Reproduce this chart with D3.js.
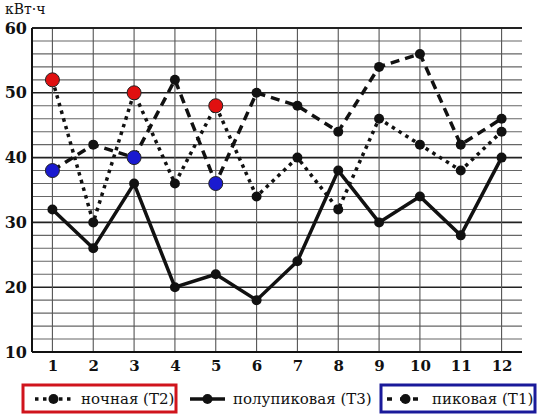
<!DOCTYPE html>
<html>
<head>
<meta charset="utf-8">
<script src="https://cdn.jsdelivr.net/npm/d3@7"></script>
<style>
  body { margin: 0; background: #fff; }
  text { font-family: "DejaVu Serif", "Liberation Serif", serif; fill: #111; }
</style>
</head>
<body>
<div id="chart"></div>
<script>
// Months and consumption per tariff zone (kWh)
var months = [1, 2, 3, 4, 5, 6, 7, 8, 9, 10, 11, 12];
var night = [52, 30, 50, 36, 48, 34, 40, 32, 46, 42, 38, 44];     // ночная (Т2)
var halfPeak = [32, 26, 36, 20, 22, 18, 24, 38, 30, 34, 28, 40];  // полупиковая (Т3)
var peak = [38, 42, 40, 52, 36, 50, 48, 44, 54, 56, 42, 46];      // пиковая (Т1)
var yTicks = [10, 20, 30, 40, 50, 60];
var highlighted = [1, 3, 5];

var w = 539, h = 417;
var plotLeft = 32, plotRight = 522, plotTop = 28, plotBottom = 352;

var svg = d3.select("#chart").append("svg")
  .attr("width", w).attr("height", h);

var x = d3.scalePoint().domain(months).range([plotLeft, plotRight]).padding(0.5);
var y = d3.scaleLinear().domain([10, 60]).range([plotBottom, plotTop]);

// horizontal grid, every 2 kWh
var grid = svg.append("g");
grid.selectAll(".hgrid")
  .data(d3.range(10, 61, 2))
  .enter().append("line")
  .attr("x1", plotLeft).attr("x2", plotRight)
  .attr("y1", function(d) { return y(d); })
  .attr("y2", function(d) { return y(d); })
  .attr("stroke", function(d) { return d % 10 == 0 ? "#222" : "#666"; })
  .attr("stroke-width", function(d) { return d % 10 == 0 ? 1.6 : 1.1; });

// vertical grid at each month
grid.selectAll(".vgrid")
  .data(months)
  .enter().append("line")
  .attr("x1", function(d) { return x(d); })
  .attr("x2", function(d) { return x(d); })
  .attr("y1", plotTop).attr("y2", plotBottom)
  .attr("stroke", "#555").attr("stroke-width", 1.1);

// axes lines
svg.append("line").attr("x1", plotLeft).attr("x2", plotLeft).attr("y1", plotTop).attr("y2", plotBottom)
  .attr("stroke", "#111").attr("stroke-width", 2);
svg.append("line").attr("x1", plotLeft).attr("x2", plotRight).attr("y1", plotBottom).attr("y2", plotBottom)
  .attr("stroke", "#111").attr("stroke-width", 2);
svg.append("line").attr("x1", plotLeft).attr("x2", plotRight).attr("y1", plotTop).attr("y2", plotTop)
  .attr("stroke", "#111").attr("stroke-width", 1.6);

// y axis labels
var yAxis = d3.axisLeft(y).tickValues(yTicks).tickSize(0).tickPadding(5);
svg.append("g").attr("transform", "translate(" + plotLeft + ",0)")
  .call(yAxis)
  .call(function(g) { g.select(".domain").remove(); })
  .selectAll("text")
  .style("font-size", "16px").style("font-weight", "bold")
  .style("font-family", "DejaVu Serif").attr("fill", "#111");

// x axis labels
var xAxis = d3.axisBottom(x).tickSize(0).tickPadding(8);
svg.append("g").attr("transform", "translate(0," + plotBottom + ")")
  .call(xAxis)
  .call(function(g) { g.select(".domain").remove(); })
  .selectAll("text")
  .style("font-size", "15px").style("font-weight", "bold")
  .style("font-family", "DejaVu Serif").attr("fill", "#111");

svg.append("text").text("кВт·ч")
  .attr("x", 5).attr("y", 14)
  .style("font-size", "14px");

var line = d3.line()
  .x(function(d, i) { return x(months[i]); })
  .y(function(d) { return y(d); });

var series = [
  { values: halfPeak, dash: null, mark: function() { return "#111"; } },
  { values: peak, dash: "9,6", mark: function(m) { return highlighted.indexOf(m) >= 0 ? "#1a1ad0" : "#111"; } },
  { values: night, dash: "3.5,4.5", mark: function(m) { return highlighted.indexOf(m) >= 0 ? "#e01010" : "#111"; } }
];

series.forEach(function(s) {
  svg.append("path")
    .datum(s.values)
    .attr("d", line)
    .attr("fill", "none")
    .attr("stroke", "#111")
    .attr("stroke-width", 3.5)
    .attr("stroke-dasharray", s.dash);
});

series.forEach(function(s) {
  svg.append("g").selectAll("circle")
    .data(s.values)
    .enter().append("circle")
    .attr("cx", function(d, i) { return x(months[i]); })
    .attr("cy", function(d) { return y(d); })
    .attr("r", function(d, i) { return s.mark(months[i]) == "#111" ? 5 : 7; })
    .attr("fill", function(d, i) { return s.mark(months[i]); })
    .attr("stroke", "#222")
    .attr("stroke-width", function(d, i) { return s.mark(months[i]) == "#111" ? 0 : 1; });
});

// legend
var legend = svg.append("g");
var legendItems = [
  { label: "ночная (Т2)", dash: "3.5,4.5", x1: 35, x2: 72, tx: 81, box: [23, 176, "#d0141c"] },
  { label: "полупиковая (Т3)", dash: null, x1: 190, x2: 225, tx: 233, box: null },
  { label: "пиковая (Т1)", dash: "5,8", x1: 387, x2: 424, tx: 432, box: [381, 535, "#1a1a9a"] }
];
legendItems.forEach(function(it) {
  if (it.box) {
    legend.append("rect")
      .attr("x", it.box[0]).attr("y", 385)
      .attr("width", it.box[1] - it.box[0]).attr("height", 27)
      .attr("fill", "none").attr("stroke", it.box[2]).attr("stroke-width", 3);
  }
  legend.append("line")
    .attr("x1", it.x1).attr("x2", it.x2).attr("y1", 399).attr("y2", 399)
    .attr("stroke", "#111").attr("stroke-width", 3.5)
    .attr("stroke-dasharray", it.dash);
  legend.append("circle")
    .attr("cx", (it.x1 + it.x2) / 2).attr("cy", 399).attr("r", 5).attr("fill", "#111");
  legend.append("text").text(it.label)
    .attr("x", it.tx).attr("y", 404)
    .style("font-size", "15px");
});
</script>
</body>
</html>
